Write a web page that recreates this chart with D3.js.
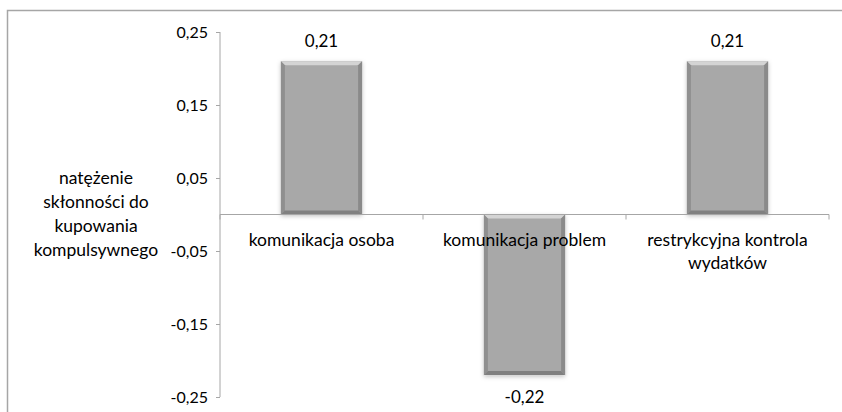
<!DOCTYPE html>
<html><head><meta charset="utf-8">
<script src="https://cdn.jsdelivr.net/npm/d3@7"></script>
<style>
body{margin:0;background:#fff;}
text{font-family:Lato,"Open Sans",sans-serif;fill:#000;}
</style></head>
<body><svg id="c" width="842" height="412"></svg>
<script>
const categories = [["komunikacja osoba"], ["komunikacja problem"], ["restrykcyjna kontrola", "wydatków"]];
const values = [0.21, -0.22, 0.21];
const valueLabels = ["0,21", "-0,22", "0,21"];
const yTicks = [0.25, 0.15, 0.05, -0.05, -0.15, -0.25];
const yTickLabels = ["0,25", "0,15", "0,05", "-0,05", "-0,15", "-0,25"];
const yTitle = ["natężenie", "skłonności do", "kupowania", "kompulsywnego"];

const svg = d3.select("#c");
const defs = svg.append("defs");
const f = defs.append("filter").attr("id","sh").attr("x","-20%").attr("y","-20%").attr("width","140%").attr("height","140%");
f.append("feDropShadow").attr("dx",0).attr("dy",1.5).attr("stdDeviation",2).attr("flood-color","#000").attr("flood-opacity",0.25);

// chart border
svg.append("rect").attr("x",7.5).attr("y",10.5).attr("width",850).attr("height",420)
  .attr("fill","none").attr("stroke","#a6a6a6").attr("stroke-width",1.5);

const y = d3.scaleLinear().domain([-0.25, 0.25]).range([397, 32]);
const x = d3.scaleBand().domain(d3.range(categories.length)).range([220, 829]).paddingInner(0.6).paddingOuter(0.3);
const xb = d3.scaleBand().domain(d3.range(categories.length)).range([220, 829]);

// y axis
const yAxis = d3.axisLeft(y).tickValues(yTicks).tickSize(4).tickFormat((d,i)=>yTickLabels[i]);
const gy = svg.append("g").attr("transform","translate(220,0)").call(yAxis);
gy.select(".domain").attr("stroke","#a6a6a6").attr("d","M0,32V397");
gy.selectAll(".tick line").attr("stroke","#a6a6a6");
gy.selectAll(".tick text").attr("font-size",16).attr("x",-12).attr("font-family","Lato,sans-serif").attr("fill","#000");

// bars
const bars = svg.append("g");
values.forEach((v,i)=>{
  const x0 = x(i), w = x.bandwidth();
  const y0 = Math.min(y(v), y(0)), h = Math.abs(y(v)-y(0));
  const g = bars.append("g");
  g.append("rect").attr("x",x0).attr("y",y0).attr("width",w).attr("height",h).attr("fill","#a8a8a8").attr("filter","url(#sh)");
  const b = 4, x1 = x0+w, y1 = y0+h;
  g.append("polygon").attr("points",[[x0,y0],[x1,y0],[x1-b,y0+b],[x0+b,y0+b]].join(" ")).attr("fill","#d4d4d4");
  g.append("polygon").attr("points",[[x0,y0],[x0+b,y0+b],[x0+b,y1-b],[x0,y1]].join(" ")).attr("fill","#8f8f8f");
  g.append("polygon").attr("points",[[x1,y0],[x1-b,y0+b],[x1-b,y1-b],[x1,y1]].join(" ")).attr("fill","#8a8a8a");
  g.append("polygon").attr("points",[[x0,y1],[x0+b,y1-b],[x1-b,y1-b],[x1,y1]].join(" ")).attr("fill","#808080");
  g.append("text").attr("x",x0+w/2).attr("y", v>=0 ? y(v)-14 : y(v)+28)
    .attr("text-anchor","middle").attr("font-size",17).text(valueLabels[i]);
});

// x axis
const gx = svg.append("g").attr("transform",`translate(0,${y(0)})`);
gx.append("line").attr("x1",220).attr("x2",829).attr("stroke","#a6a6a6");
d3.range(categories.length+1).forEach(i=>{
  const xx = i<categories.length ? xb(i) : xb(i-1)+xb.bandwidth();
  gx.append("line").attr("x1",xx).attr("x2",xx).attr("y1",0).attr("y2",5).attr("stroke","#a6a6a6");
});
categories.forEach((lines,i)=>{
  const t = gx.append("text").attr("text-anchor","middle").attr("font-size",17.5);
  lines.forEach((l,j)=>t.append("tspan").attr("x",xb(i)+xb.bandwidth()/2).attr("y",31+j*23).text(l));
});

// y title
const tt = svg.append("text").attr("text-anchor","middle").attr("font-size",17.5);
yTitle.forEach((l,j)=>tt.append("tspan").attr("x",96).attr("y",184+j*24).text(l));
</script></body></html>
